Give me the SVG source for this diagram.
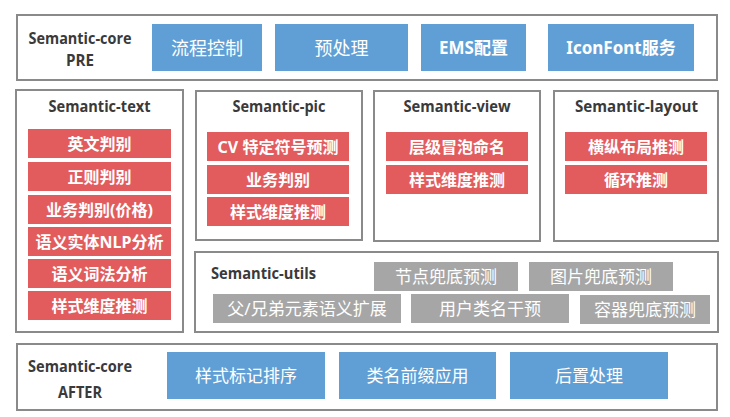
<svg xmlns="http://www.w3.org/2000/svg" width="730" height="417" viewBox="0 0 730 417">
<style>
.panel{fill:#ffffff;stroke:#8a8a8a;stroke-width:2}
.blue{fill:#5f9fd6}
.red{fill:#e25c5e}
.gray{fill:#a6a6a6}
.title{font-family:"Open Sans","Noto Sans","Liberation Sans",sans-serif;font-weight:bold;font-size:16px;fill:#3a3a3a}
.lbl{font-family:"Noto Sans","Noto Sans CJK SC",sans-serif;font-size:17px;fill:#ffffff;text-anchor:middle;dominant-baseline:central}
.big{font-size:18px}
.rl{font-family:"Noto Sans","Noto Sans CJK SC",sans-serif;font-size:16px;font-weight:bold;fill:#ffffff;text-anchor:middle;dominant-baseline:central}
</style>
<rect width="730" height="417" fill="#ffffff"/>

<g id="core-pre">
<rect class="panel" x="17" y="15" width="700" height="65"/>
<text class="title" x="80" y="44" text-anchor="middle" textLength="103" lengthAdjust="spacingAndGlyphs">Semantic-core</text>
<text class="title" x="80" y="66" text-anchor="middle" textLength="28" lengthAdjust="spacingAndGlyphs">PRE</text>
<rect class="blue" x="152" y="24" width="110" height="47"/>
<text class="lbl big" x="207" y="47.5">流程控制</text>
<rect class="blue" x="275" y="24" width="133" height="47"/>
<text class="lbl big" x="341.5" y="47.5">预处理</text>
<rect class="blue" x="421" y="24" width="105" height="47"/>
<text class="lbl" x="473.5" y="47.5" font-weight="bold">EMS配置</text>
<rect class="blue" x="548" y="24" width="146" height="47"/>
<text class="lbl" x="621" y="47.5" font-weight="bold">IconFont服务</text>
</g>

<g id="semantic-text">
<rect class="panel" x="16" y="90" width="167" height="242"/>
<text class="title" x="99.5" y="112" text-anchor="middle" textLength="102" lengthAdjust="spacingAndGlyphs">Semantic-text</text>
<rect class="red" x="28" y="129" width="143" height="29"/>
<text class="rl" x="99.5" y="143.5">英文判别</text>
<rect class="red" x="28" y="162" width="143" height="29"/>
<text class="rl" x="99.5" y="176.5">正则判别</text>
<rect class="red" x="28" y="195" width="143" height="29"/>
<text class="rl" x="99.5" y="209.5">业务判别(价格)</text>
<rect class="red" x="28" y="227" width="143" height="29"/>
<text class="rl" x="99.5" y="241.5">语义实体NLP分析</text>
<rect class="red" x="28" y="259" width="143" height="29"/>
<text class="rl" x="99.5" y="273.5">语义词法分析</text>
<rect class="red" x="28" y="291" width="143" height="29"/>
<text class="rl" x="99.5" y="305.5">样式维度推测</text>
</g>

<g id="semantic-pic">
<rect class="panel" x="196" y="91" width="166" height="149"/>
<text class="title" x="279" y="112" text-anchor="middle" textLength="93" lengthAdjust="spacingAndGlyphs">Semantic-pic</text>
<rect class="red" x="207" y="132" width="142" height="29"/>
<text class="rl" x="278" y="146.5">CV 特定符号预测</text>
<rect class="red" x="207" y="165" width="142" height="29"/>
<text class="rl" x="278" y="179.5">业务判别</text>
<rect class="red" x="207" y="197" width="142" height="29"/>
<text class="rl" x="278" y="211.5">样式维度推测</text>
</g>

<g id="semantic-view">
<rect class="panel" x="374" y="91" width="166" height="150"/>
<text class="title" x="457" y="112" text-anchor="middle" textLength="107" lengthAdjust="spacingAndGlyphs">Semantic-view</text>
<rect class="red" x="386" y="132" width="142" height="29"/>
<text class="rl" x="457" y="146.5">层级冒泡命名</text>
<rect class="red" x="386" y="165" width="142" height="29"/>
<text class="rl" x="457" y="179.5">样式维度推测</text>
</g>

<g id="semantic-layout">
<rect class="panel" x="554" y="91" width="164" height="150"/>
<text class="title" x="636.5" y="112" text-anchor="middle" textLength="123" lengthAdjust="spacingAndGlyphs">Semantic-layout</text>
<rect class="red" x="565" y="132" width="142" height="29"/>
<text class="rl" x="636" y="146.5">横纵布局推测</text>
<rect class="red" x="565" y="165" width="142" height="29"/>
<text class="rl" x="636" y="179.5">循环推测</text>
</g>

<g id="semantic-utils">
<rect class="panel" x="195" y="252" width="523" height="80"/>
<text class="title" x="211" y="279" textLength="105" lengthAdjust="spacingAndGlyphs">Semantic-utils</text>
<rect class="gray" x="374" y="262" width="144" height="29"/>
<text class="lbl" x="446" y="276.5">节点兜底预测</text>
<rect class="gray" x="529" y="262" width="144" height="29"/>
<text class="lbl" x="601" y="276.5">图片兜底预测</text>
<rect class="gray" x="213" y="294" width="188" height="29"/>
<text class="lbl" x="307" y="308.5">父/兄弟元素语义扩展</text>
<rect class="gray" x="411" y="294" width="158" height="29"/>
<text class="lbl" x="490" y="308.5">用户类名干预</text>
<rect class="gray" x="580" y="295" width="130" height="29"/>
<text class="lbl" x="645" y="309.5">容器兜底预测</text>
</g>

<g id="core-after">
<rect class="panel" x="17" y="344" width="700" height="66"/>
<text class="title" x="80" y="372" text-anchor="middle" textLength="104" lengthAdjust="spacingAndGlyphs">Semantic-core</text>
<text class="title" x="80" y="398" text-anchor="middle" textLength="44" lengthAdjust="spacingAndGlyphs">AFTER</text>
<rect class="blue" x="167" y="352" width="158" height="47"/>
<text class="lbl" x="246" y="375.5">样式标记排序</text>
<rect class="blue" x="339" y="352" width="157" height="47"/>
<text class="lbl" x="417.5" y="375.5">类名前缀应用</text>
<rect class="blue" x="510" y="352" width="158" height="47"/>
<text class="lbl" x="589" y="375.5">后置处理</text>
</g>

<g id="connectors"></g>
</svg>
